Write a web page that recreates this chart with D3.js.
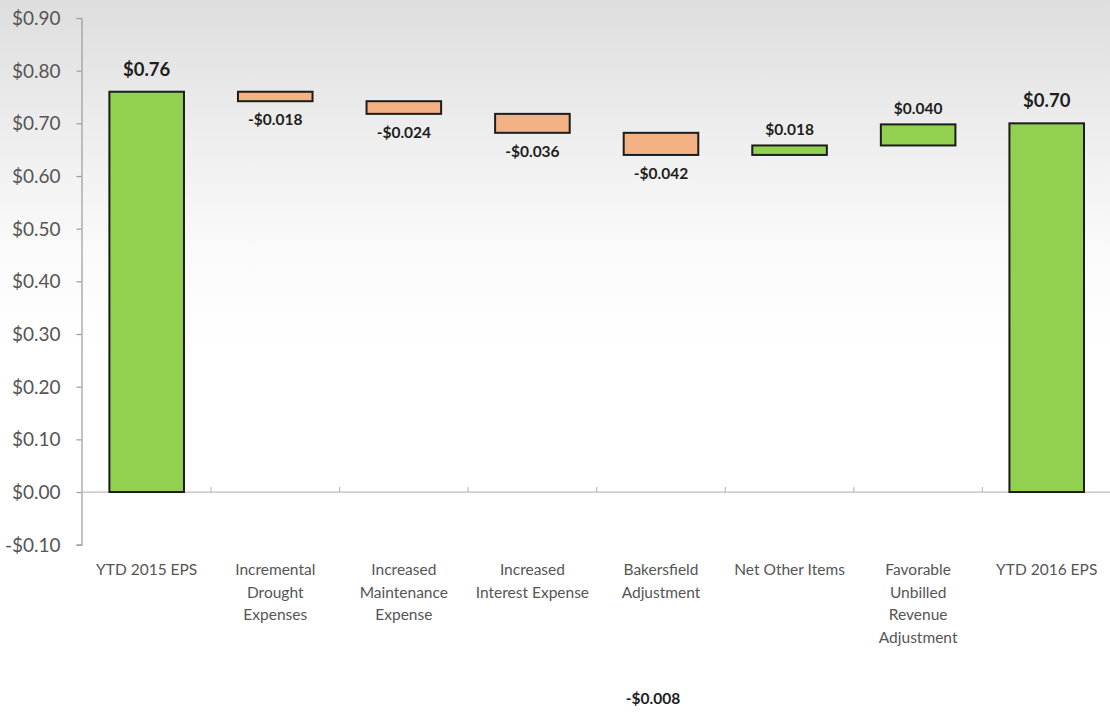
<!DOCTYPE html>
<html>
<head>
<meta charset="utf-8">
<script src="https://cdn.jsdelivr.net/npm/d3@7"></script>
<style>
  html, body { margin: 0; padding: 0; background: #fff; }
  svg { display: block; }
</style>
</head>
<body>
<svg id="chart" width="1110" height="713"></svg>
<script>
// EPS bridge: YTD 2015 to YTD 2016
const categories = [
  "YTD 2015 EPS",
  "Incremental Drought Expenses",
  "Increased Maintenance Expense",
  "Increased Interest Expense",
  "Bakersfield Adjustment",
  "Net Other Items",
  "Favorable Unbilled Revenue Adjustment",
  "YTD 2016 EPS"
];
// wrapped category lines
const categoryLines = [
  ["YTD 2015 EPS"],
  ["Incremental", "Drought", "Expenses"],
  ["Increased", "Maintenance", "Expense"],
  ["Increased", "Interest Expense"],
  ["Bakersfield", "Adjustment"],
  ["Net Other Items"],
  ["Favorable", "Unbilled", "Revenue", "Adjustment"],
  ["YTD 2016 EPS"]
];
// "total" bars start from zero, "delta" bars float on the running total
const kinds = ["total", "delta", "delta", "delta", "delta", "delta", "delta", "total"];
const values = [0.76, -0.018, -0.024, -0.036, -0.042, 0.018, 0.040, 0.70];
const valueLabels = ["$0.76", "-$0.018", "-$0.024", "-$0.036", "-$0.042", "$0.018", "$0.040", "$0.70"];
// stray data label that sits below the category labels
const strayLabel = { category: "Bakersfield Adjustment", value: -0.403, text: "-$0.008" };
const yTicks = [-0.10, 0.00, 0.10, 0.20, 0.30, 0.40, 0.50, 0.60, 0.70, 0.80, 0.90];

const svg = d3.select("#chart");
const W = 1110, H = 713;

// background wash
const defs = svg.append("defs");
const grad = defs.append("linearGradient").attr("id", "bg").attr("x1", 0).attr("y1", 0).attr("x2", 0).attr("y2", 1);
grad.append("stop").attr("offset", "0%").attr("stop-color", "#dedede");
grad.append("stop").attr("offset", "18%").attr("stop-color", "#ededed");
grad.append("stop").attr("offset", "36%").attr("stop-color", "#fbfbfb");
grad.append("stop").attr("offset", "50%").attr("stop-color", "#ffffff");
svg.append("rect").attr("width", W).attr("height", H).attr("fill", "url(#bg)");

const x = d3.scaleBand().domain(categories).range([82.4, 1111]).paddingInner(0.42).paddingOuter(0.21);
const y = d3.scaleLinear().domain([-0.10, 0.90]).range([544.7, 18]);

// compute bar extents
let running = 0;
const bars = categories.map((c, i) => {
  let y0, y1;
  if (kinds[i] === "total") {
    y0 = 0; y1 = values[i]; running = values[i];
  } else {
    y0 = running; y1 = running + values[i]; running = y1;
  }
  return { c, i, lo: Math.min(y0, y1), hi: Math.max(y0, y1), v: values[i], kind: kinds[i], label: valueLabels[i] };
});

// y axis
const yAxis = d3.axisLeft(y).tickValues(yTicks).tickSize(5).tickPadding(16)
  .tickFormat(d => (d < 0 ? "-$" : "$") + Math.abs(d).toFixed(2));
const gy = svg.append("g").attr("transform", "translate(81.5,0)").call(yAxis);
gy.select(".domain").attr("stroke", "#9a9a9a").attr("stroke-width", 1.2);
gy.selectAll(".tick line").attr("stroke", "#9a9a9a").attr("stroke-width", 1.2);
gy.selectAll(".tick text").attr("fill", "#555").style("font-family", "Lato, 'Open Sans', sans-serif")
  .style("font-size", "19px").attr("dy", "0.34em");

// x axis line at zero with upward ticks at category boundaries
const zeroY = y(0);
svg.append("line").attr("x1", 81.5).attr("x2", W).attr("y1", zeroY).attr("y2", zeroY)
  .attr("stroke", "#bdbdbd").attr("stroke-width", 1.2);
const boundaries = categories.slice(1).map(c => x(c) - x.paddingInner() * x.bandwidth() / (1 - x.paddingInner()) / 2);
svg.append("g").selectAll("line").data(boundaries).join("line")
  .attr("x1", d => d).attr("x2", d => d).attr("y1", zeroY - 5).attr("y2", zeroY)
  .attr("stroke", "#bdbdbd").attr("stroke-width", 1.2);

// bars
svg.append("g").selectAll("rect").data(bars).join("rect")
  .attr("x", d => x(d.c))
  .attr("width", x.bandwidth())
  .attr("y", d => y(d.hi))
  .attr("height", d => Math.max(1, y(d.lo) - y(d.hi)))
  .attr("fill", d => (d.kind === "delta" && d.v < 0) ? "#F4B183" : "#92D050")
  .attr("stroke", "#1c1c1c").attr("stroke-width", 2);

// value labels
svg.append("g").selectAll("text").data(bars).join("text")
  .attr("x", d => x(d.c) + x.bandwidth() / 2)
  .attr("y", d => {
    if (d.kind === "total") return y(d.hi) - 16;
    return d.v < 0 ? y(d.lo) + 24 : y(d.hi) - 10;
  })
  .attr("text-anchor", "middle")
  .attr("fill", "#1e1e1e")
  .style("font-family", "Lato, 'Open Sans', sans-serif")
  .style("font-weight", "bold")
  .style("font-size", d => d.kind === "total" ? "18.5px" : "15.5px")
  .text(d => d.label);

// category labels
const cat = svg.append("g").selectAll("text").data(categories).join("text")
  .attr("x", d => x(d) + x.bandwidth() / 2)
  .attr("y", 575)
  .attr("text-anchor", "middle")
  .attr("fill", "#555")
  .style("font-family", "Lato, 'Open Sans', sans-serif")
  .style("font-size", "15.5px");
cat.each(function(d, i) {
  d3.select(this).selectAll("tspan").data(categoryLines[i]).join("tspan")
    .attr("x", x(d) + x.bandwidth() / 2)
    .attr("dy", (t, j) => j === 0 ? 0 : 22.5)
    .text(t => t);
});

// stray label
svg.append("text")
  .attr("x", x(strayLabel.category) + x.bandwidth() / 2 - 8)
  .attr("y", y(strayLabel.value))
  .attr("text-anchor", "middle")
  .attr("fill", "#1e1e1e")
  .style("font-family", "Lato, 'Open Sans', sans-serif")
  .style("font-weight", "bold")
  .style("font-size", "15.5px")
  .text(strayLabel.text);
</script>
</body>
</html>
